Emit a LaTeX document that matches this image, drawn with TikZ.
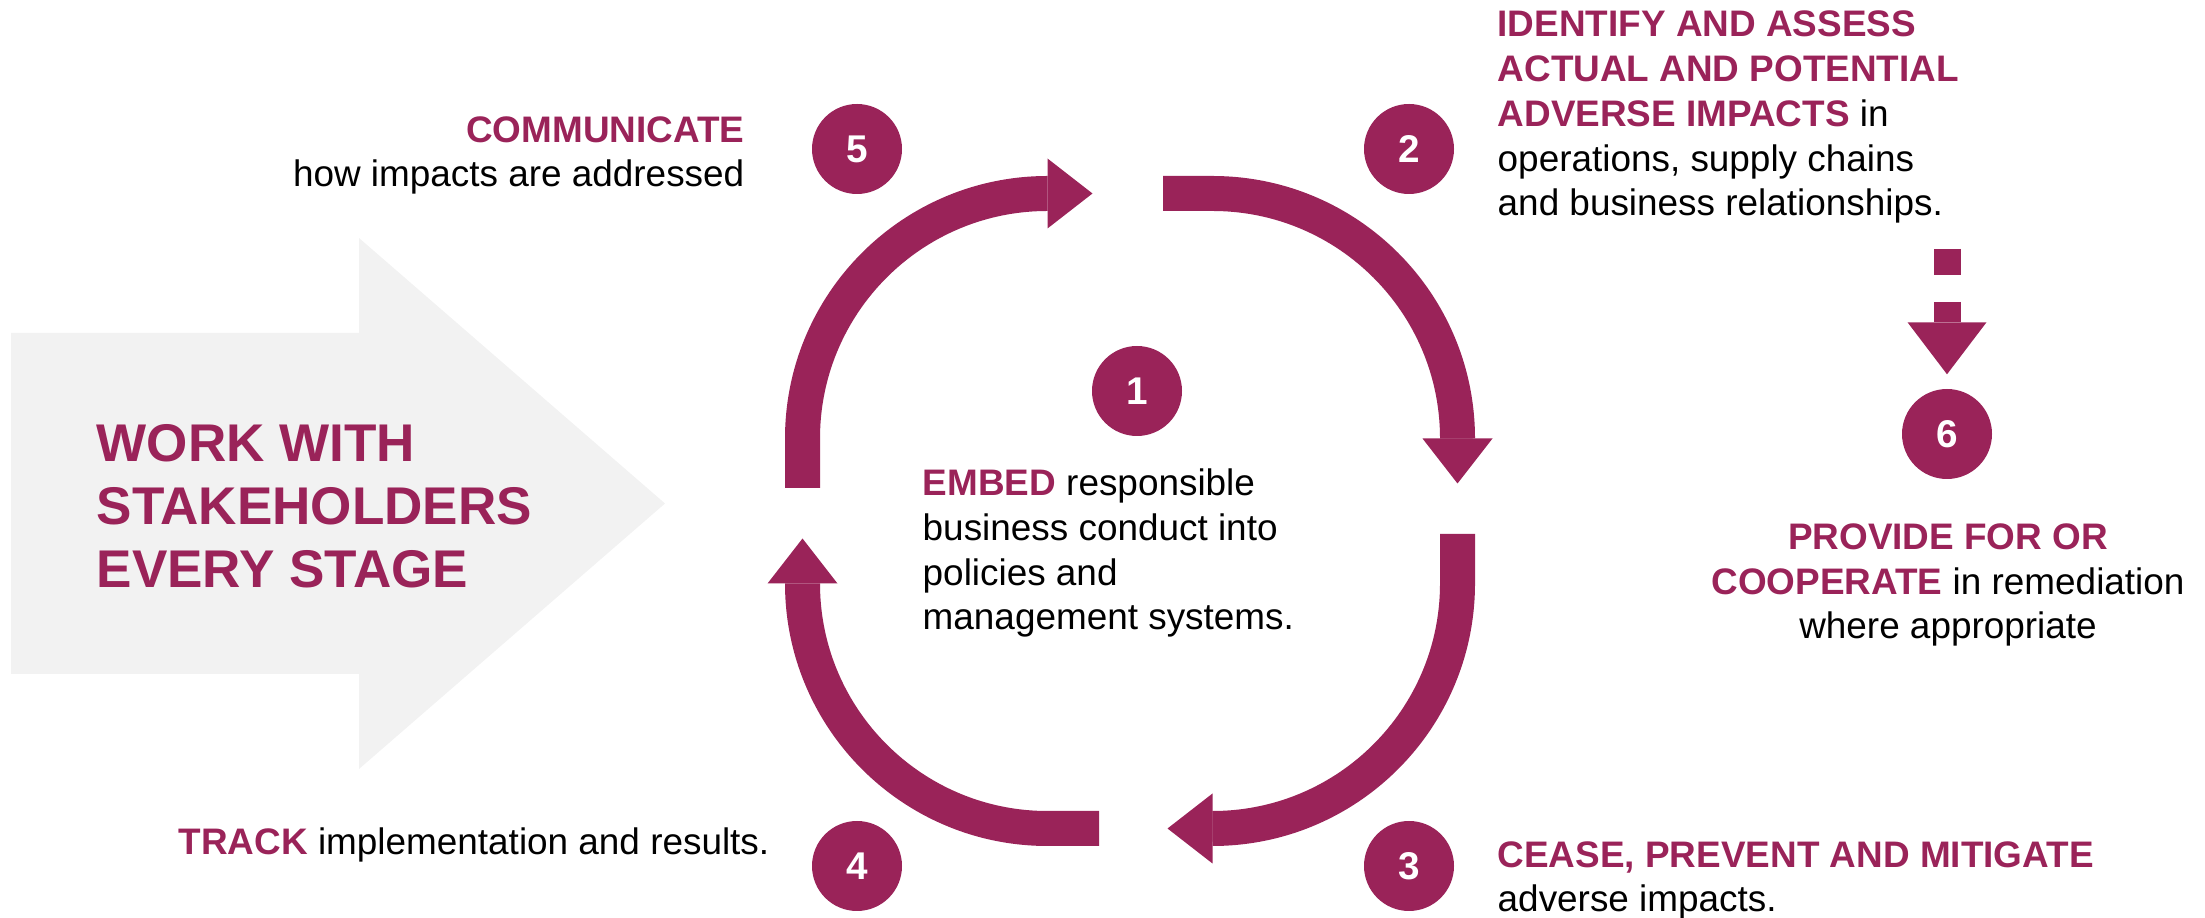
\documentclass[tikz,border=0pt]{standalone}
\usepackage{fontspec}
\setmainfont{Liberation Sans}
\usetikzlibrary{arrows.meta}

\definecolor{plum}{RGB}{154,35,89}
\definecolor{paleback}{RGB}{242,242,242}

% bold purple key words
\newcommand{\kw}[1]{\textbf{\textcolor{plum}{#1}}}

\begin{document}
\begin{tikzpicture}[
		loop/.style={line width=3.5mm, plum, -{Triangle[width=7mm,length=4.5mm,line width=0pt]}},
		dashloop/.style={line width=2.7mm, plum, dash pattern=on 2.6mm off 2.7mm, -{Triangle[width=7.9mm,length=5.2mm,line width=0pt]}},
		num/.style={circle, fill=plum, minimum size=9mm, inner sep=0pt, text=white, font=\fontsize{11}{13}\selectfont\bfseries},
		txt/.style={inner sep=0pt, font=\fontsize{10.5}{12.8}\selectfont},
	]
	\useasboundingbox (0,0) rectangle (22.05,9.18);

	% big grey arrow on the left
	\fill[paleback] (0.11,2.44) -- (3.59,2.44) -- (3.59,1.49) -- (6.65,4.145)
		-- (3.59,6.80) -- (3.59,5.85) -- (0.11,5.85) -- cycle;
	% (base of a multi-line node = baseline of its last line)
	\node[inner sep=0pt, anchor=base west, align=left, text=plum,
		font=\fontsize{15.1}{18}\selectfont\bfseries] (work) at (0.96,3.30)
		{WORK WITH\\STAKEHOLDERS\\EVERY STAGE};

	% the four bent arrows of the cycle
	\draw[loop] (8.025,4.30)  -- (8.025,4.795)  arc (180:90:2.45)  -- ++( 0.45, 0);
	\draw[loop] (11.63,7.245) -- (12.125,7.245) arc (90:0:2.45)    -- ++( 0,-0.45);
	\draw[loop] (14.575,3.84) -- (14.575,3.345) arc (0:-90:2.45)   -- ++(-0.45, 0);
	\draw[loop] (10.99,0.895) -- (10.475,0.895) arc (270:180:2.45) -- ++( 0, 0.45);

	% numbered steps
	\node[num] (c1) at (11.37,5.27) {1};
	\node[num] (c2) at (14.09,7.69) {2};
	\node[num] (c3) at (14.09,0.52) {3};
	\node[num] (c4) at ( 8.57,0.52) {4};
	\node[num] (c5) at ( 8.57,7.69) {5};
	\node[num] (c6) at (19.47,4.84) {6};

	\coordinate (d6) at (19.47,6.69);
	\draw[dashloop] (d6) -- ([yshift=1.4mm]c6.north);

	% step texts
	\node[txt, anchor=base west, align=left] (t1) at (9.22,2.88)
		{\kw{EMBED} responsible\\business conduct into\\policies and\\management systems.};
	\node[txt, anchor=base west, align=left] (t2) at (14.97,7.02)
		{\kw{IDENTIFY AND ASSESS}\\\kw{ACTUAL AND POTENTIAL}\\\kw{ADVERSE IMPACTS} in\\operations, supply chains\\and business relationships.};
	\node[txt, anchor=base west, align=left] (t3) at (14.97,0.06)
		{\kw{CEASE, PREVENT AND MITIGATE}\\adverse impacts.};
	\node[txt, anchor=base east] (t4) at (7.70,0.63)
		{\kw{TRACK} implementation and results.};
	\node[txt, anchor=base east, align=right] (t5) at (7.45,7.31)
		{\kw{COMMUNICATE}\\how impacts are addressed};
	\node[txt, anchor=base, align=center] (t6) at (19.48,2.79)
		{\kw{PROVIDE FOR OR}\\\kw{COOPERATE} in remediation\\where appropriate};
\end{tikzpicture}
\end{document}
